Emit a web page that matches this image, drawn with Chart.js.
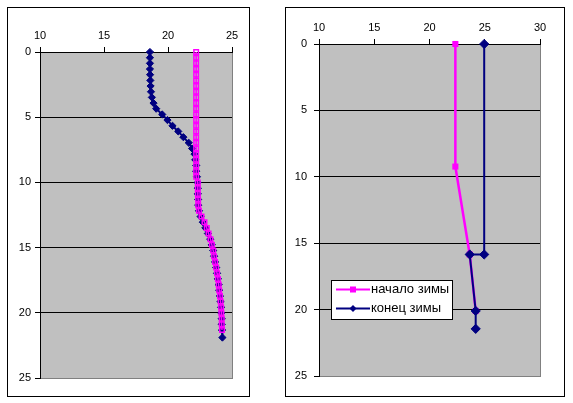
<!DOCTYPE html>
<html><head><meta charset="utf-8">
<script src="https://cdn.jsdelivr.net/npm/chart.js@4/dist/chart.umd.min.js"></script>
<style>
html,body{margin:0;padding:0;background:#fff;width:573px;height:403px;overflow:hidden;}
.box{position:absolute;border:1px solid #000;box-sizing:border-box;background:#fff;}
canvas{display:block;}
</style></head><body>
<div class="box" style="left:7px;top:7px;width:243px;height:390px;"><canvas id="c1" width="241" height="388"></canvas></div>
<div class="box" style="left:285px;top:7px;width:280px;height:390px;"><canvas id="c2" width="278" height="388"></canvas></div>
<script>
// ---- Data ----
const seriesNames = ["начало зимы", "конец зимы"];

// Left chart
const depthLeft = [0, 0.44, 0.87, 1.31, 1.74, 2.18, 2.61, 3.05, 3.48, 3.92, 4.35, 4.79, 5.22, 5.66, 6.09, 6.53, 6.96, 7.40, 7.83, 8.27, 8.70, 9.14, 9.57, 10.01, 10.44, 10.88, 11.31, 11.75, 12.18, 12.62, 13.05, 13.49, 13.92, 14.36, 14.79, 15.23, 15.66, 16.10, 16.53, 16.97, 17.40, 17.84, 18.27, 18.71, 19.14, 19.58, 20.01, 20.45, 20.88, 21.32, 21.9];
const endWinterLeft = [18.59, 18.59, 18.59, 18.59, 18.60, 18.62, 18.64, 18.67, 18.74, 18.87, 19.08, 19.55, 19.96, 20.35, 20.80, 21.20, 21.62, 21.88, 22.07, 22.13, 22.20, 22.20, 22.26, 22.32, 22.33, 22.33, 22.35, 22.36, 22.42, 22.55, 22.72, 22.92, 23.12, 23.30, 23.42, 23.53, 23.60, 23.68, 23.76, 23.83, 23.90, 23.96, 24.00, 24.06, 24.11, 24.15, 24.17, 24.20, 24.20, 24.22, 24.25];
const startWinterLeft = [22.2, 22.2, 22.2, 22.2, 22.2, 22.2, 22.2, 22.2, 22.2, 22.2, 22.2, 22.2, 22.2, 22.2, 22.2, 22.2, 22.2, 22.2, 22.2, 22.2, 22.2, 22.2, 22.2, 22.33, 22.33, 22.33, 22.35, 22.36, 22.42, 22.62, 22.85, 23.03, 23.17, 23.32, 23.43, 23.53, 23.60, 23.68, 23.76, 23.83, 23.90, 23.96, 24.00, 24.06, 24.11, 24.15, 24.17, 24.20, 24.20, 24.22];

// Right chart
const depthStartRight = [0, 9.23, 15.85, 20.1];
const startWinterRight = [22.34, 22.34, 23.64, 24.18];
const depthEndRight = [0, 15.85, 15.85, 20.1, 21.45];
const endWinterRight = [24.95, 24.95, 23.64, 24.18, 24.18];

// Axis ticks
const yTicks = [0, 5, 10, 15, 20, 25];
const xTicksLeft = [10, 15, 20, 25];
const xTicksRight = [10, 15, 20, 25, 30];

// ---- Helpers ----
const MAGENTA = '#ff00ff', NAVY = '#000080';
const FONT = 'Liberation Sans, Arial, sans-serif';
const pts = (xs, ys) => xs.map((x, i) => ({x: x, y: ys[i]}));

const bgPlugin = {
  id: 'bg',
  beforeDraw(chart) {
    const {ctx, chartArea: a} = chart;
    ctx.save();
    ctx.fillStyle = '#c0c0c0';
    ctx.fillRect(a.left, a.top, a.right - a.left, a.bottom - a.top);
    ctx.strokeStyle = '#808080';
    ctx.lineWidth = 1;
    ctx.strokeRect(a.left + 0.5, a.top + 0.5, a.right - a.left, a.bottom - a.top);
    ctx.restore();
  }
};

function makeOptions(xTicks, yW, xH, padR, padB, yPad) {
  return {
    responsive: false,
    animation: false,
    devicePixelRatio: 1,
    layout: {padding: {left: 0, top: 0, right: padR, bottom: padB}},
    plugins: {legend: {display: false}, tooltip: {enabled: false}},
    scales: {
      x: {
        type: 'linear', position: 'top',
        min: xTicks[0], max: xTicks[xTicks.length - 1],
        afterBuildTicks: s => { s.ticks = xTicks.map(v => ({value: v})); },
        afterFit: s => { s.height = xH; },
        grid: {drawOnChartArea: false, tickLength: 5, tickColor: '#000', color: '#000'},
        border: {color: '#000', width: 1},
        ticks: {color: '#000', font: {family: FONT, size: 11}, padding: 4, maxRotation: 0}
      },
      y: {
        type: 'linear', reverse: true,
        min: yTicks[0], max: yTicks[yTicks.length - 1],
        afterBuildTicks: s => { s.ticks = yTicks.map(v => ({value: v})); },
        afterFit: s => { s.width = yW; },
        grid: {
          tickLength: 5, tickColor: '#000',
          color: c => (c.tick && (c.tick.value === 0 || c.tick.value === 25)) ? 'rgba(0,0,0,0)' : '#000'
        },
        border: {color: '#000', width: 1},
        ticks: {color: '#000', font: {family: FONT, size: 11}, padding: yPad}
      }
    }
  };
}

// ---- Left chart ----
new Chart(document.getElementById('c1'), {
  type: 'scatter',
  data: {
    datasets: [
      {
        label: seriesNames[0], data: pts(startWinterLeft, depthLeft), showLine: true, clip: false,
        borderColor: MAGENTA, borderWidth: 1.5, pointStyle: 'rect', pointRadius: 3.2,
        pointBorderColor: MAGENTA, pointBackgroundColor: 'rgba(0,0,0,0)', pointBorderWidth: 1.5, order: 0
      },
      {
        label: seriesNames[1], data: pts(endWinterLeft, depthLeft), showLine: true, clip: false,
        borderColor: NAVY, borderWidth: 2, pointStyle: 'rectRot', pointRadius: 3.6,
        pointBorderColor: NAVY, pointBackgroundColor: NAVY, pointBorderWidth: 1, order: 1
      }
    ]
  },
  options: makeOptions(xTicksLeft, 32, 44, 17, 18, 4),
  plugins: [bgPlugin]
});

// ---- Right chart ----
const legendPlugin = {
  id: 'boxLegend',
  afterDraw(chart) {
    const ctx = chart.ctx;
    ctx.save();
    const bx = 45, by = 272, bw = 121, bh = 39;
    ctx.fillStyle = '#fff';
    ctx.fillRect(bx, by, bw, bh);
    ctx.strokeStyle = '#000';
    ctx.lineWidth = 1;
    ctx.strokeRect(bx + 0.5, by + 0.5, bw, bh);
    const rows = [
      {y: 281.5, color: MAGENTA, style: 'rect', text: seriesNames[0]},
      {y: 300.5, color: NAVY, style: 'diamond', text: seriesNames[1]}
    ];
    rows.forEach(r => {
      ctx.strokeStyle = r.color;
      ctx.lineWidth = 2;
      ctx.beginPath();
      ctx.moveTo(50, r.y);
      ctx.lineTo(84, r.y);
      ctx.stroke();
      ctx.fillStyle = r.color;
      if (r.style === 'rect') {
        ctx.fillRect(64, r.y - 3, 6, 6);
      } else {
        ctx.beginPath();
        ctx.moveTo(67, r.y - 3.5); ctx.lineTo(70.5, r.y); ctx.lineTo(67, r.y + 3.5); ctx.lineTo(63.5, r.y);
        ctx.closePath(); ctx.fill();
      }
      ctx.fillStyle = '#000';
      ctx.font = '13px ' + FONT;
      ctx.textBaseline = 'middle';
      ctx.textAlign = 'left';
      ctx.fillText(r.text, 85, r.y);
    });
    ctx.restore();
  }
};

new Chart(document.getElementById('c2'), {
  type: 'scatter',
  data: {
    datasets: [
      {
        label: seriesNames[0], data: pts(startWinterRight, depthStartRight), showLine: true, clip: false,
        borderColor: MAGENTA, borderWidth: 2.5, pointStyle: 'rect', pointRadius: 4.3,
        pointBorderColor: MAGENTA, pointBackgroundColor: MAGENTA, pointBorderWidth: 0, order: 1
      },
      {
        label: seriesNames[1], data: pts(endWinterRight, depthEndRight), showLine: true, clip: false,
        borderColor: NAVY, borderWidth: 2, pointStyle: 'rectRot', pointRadius: 4.6,
        pointBorderColor: NAVY, pointBackgroundColor: NAVY, pointBorderWidth: 1, order: 0
      }
    ]
  },
  options: makeOptions(xTicksRight, 33, 36, 24, 20, 7),
  plugins: [bgPlugin, legendPlugin]
});
</script>
</body></html>
